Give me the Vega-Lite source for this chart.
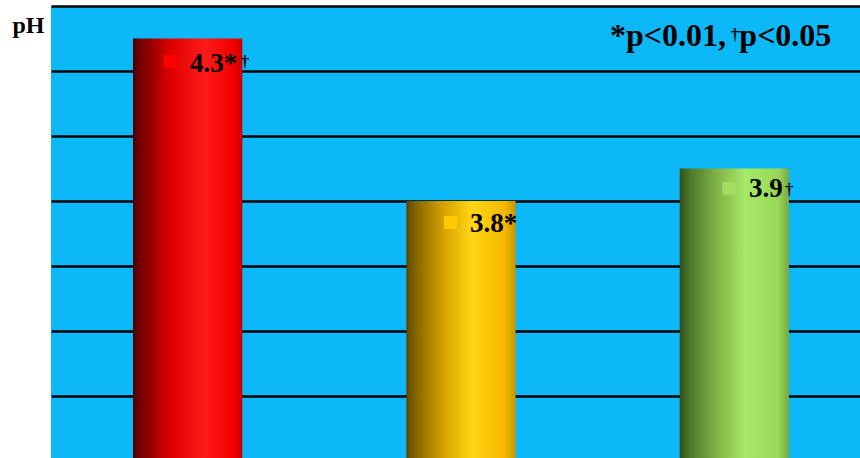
{
  "$schema": "https://vega.github.io/schema/vega-lite/v6.json",
  "width": 820,
  "height": 455,
  "autosize": "none",
  "padding": {"left": 51, "top": 6, "right": 0, "bottom": 0},
  "background": "white",
  "view": {"fill": "#0DB8F9", "stroke": null},
  "config": {"font": "Liberation Serif"},
  "data": {"values": [
    {"group": "Group 1", "value": 4.3, "label": "4.3*", "sup": "†"},
    {"group": "Group 2", "value": 3.8, "label": "3.8*", "sup": ""},
    {"group": "Group 3", "value": 3.9, "label": "3.9", "sup": "†"}
  ]},
  "encoding": {
    "x": {"field": "group", "type": "nominal", "sort": null, "axis": null,
          "scale": {"paddingInner": 0.6, "paddingOuter": 0.3}},
    "y": {"field": "value", "type": "quantitative",
          "scale": {"domain": [3.0, 4.4], "nice": false, "zero": false},
          "axis": {"values": [3.2, 3.4, 3.6, 3.8, 4.0, 4.2, 4.4], "labels": false, "ticks": false, "domain": false,
                   "grid": true, "gridColor": "#000000", "gridWidth": 2.6, "gridOpacity": 1,
                   "title": "pH", "titleAngle": 0, "titleAlign": "left", "titleBaseline": "alphabetic",
                   "titleX": -39, "titleY": 26, "titleFont": "Liberation Serif", "titleFontSize": 24,
                   "titleFontWeight": "bold", "titleColor": "#000000"}}
  },
  "layer": [
    {"transform": [{"filter": "datum.group == 'Group 1'"}],
     "mark": {"type": "bar", "color": {"gradient": "linear", "x1": 0, "y1": 0, "x2": 1, "y2": 0, "stops": [
       {"offset": 0, "color": "#4d0000"}, {"offset": 0.08, "color": "#780000"}, {"offset": 0.35, "color": "#e00000"},
       {"offset": 0.65, "color": "#ff1a1a"}, {"offset": 0.92, "color": "#f20000"}, {"offset": 1, "color": "#c80000"}]}},
     "encoding": {"y2": {"datum": 3.0}}},
    {"transform": [{"filter": "datum.group == 'Group 2'"}],
     "mark": {"type": "bar", "color": {"gradient": "linear", "x1": 0, "y1": 0, "x2": 1, "y2": 0, "stops": [
       {"offset": 0, "color": "#5c4600"}, {"offset": 0.1, "color": "#8a6800"}, {"offset": 0.35, "color": "#d8a400"},
       {"offset": 0.6, "color": "#ffd614"}, {"offset": 0.9, "color": "#f5b800"}, {"offset": 1, "color": "#c89400"}]}},
     "encoding": {"y2": {"datum": 3.0}}},
    {"transform": [{"filter": "datum.group == 'Group 3'"}],
     "mark": {"type": "bar", "color": {"gradient": "linear", "x1": 0, "y1": 0, "x2": 1, "y2": 0, "stops": [
       {"offset": 0, "color": "#33501c"}, {"offset": 0.1, "color": "#4e7a2e"}, {"offset": 0.35, "color": "#80b448"},
       {"offset": 0.6, "color": "#a8e868"}, {"offset": 0.9, "color": "#98d858"}, {"offset": 1, "color": "#78a840"}]}},
     "encoding": {"y2": {"datum": 3.0}}},

    {"transform": [{"filter": "datum.group == 'Group 1'"}],
     "mark": {"type": "point", "shape": "square", "size": 169, "filled": true, "opacity": 1, "strokeWidth": 0,
              "color": "#ff0000", "xOffset": -17.2, "yOffset": 23}},
    {"transform": [{"filter": "datum.group == 'Group 2'"}],
     "mark": {"type": "point", "shape": "square", "size": 169, "filled": true, "opacity": 1, "strokeWidth": 0,
              "color": "#ffc800", "xOffset": -10.5, "yOffset": 21.5}},
    {"transform": [{"filter": "datum.group == 'Group 3'"}],
     "mark": {"type": "point", "shape": "square", "size": 169, "filled": true, "opacity": 1, "strokeWidth": 0,
              "color": "#a4dc64", "xOffset": -5.3, "yOffset": 19.8}},

    {"transform": [{"filter": "datum.group == 'Group 1'"}],
     "mark": {"type": "text", "align": "left", "baseline": "alphabetic", "dx": 2.3, "dy": 33,
              "font": "Liberation Serif", "fontSize": 27, "fontWeight": "bold", "color": "#000000"},
     "encoding": {"text": {"field": "label"}}},
    {"transform": [{"filter": "datum.group == 'Group 2'"}],
     "mark": {"type": "text", "align": "left", "baseline": "alphabetic", "dx": 9, "dy": 30.7,
              "font": "Liberation Serif", "fontSize": 27, "fontWeight": "bold", "color": "#000000"},
     "encoding": {"text": {"field": "label"}}},
    {"transform": [{"filter": "datum.group == 'Group 3'"}],
     "mark": {"type": "text", "align": "left", "baseline": "alphabetic", "dx": 14.7, "dy": 28.8,
              "font": "Liberation Serif", "fontSize": 27, "fontWeight": "bold", "color": "#000000"},
     "encoding": {"text": {"field": "label"}}},

    {"transform": [{"filter": "datum.group == 'Group 1'"}],
     "mark": {"type": "text", "align": "left", "baseline": "alphabetic", "dx": 53, "dy": 28,
              "font": "Liberation Serif", "fontSize": 17, "fontWeight": "bold", "color": "#000000"},
     "encoding": {"text": {"field": "sup"}}},
    {"transform": [{"filter": "datum.group == 'Group 3'"}],
     "mark": {"type": "text", "align": "left", "baseline": "alphabetic", "dx": 50.7, "dy": 26.5,
              "font": "Liberation Serif", "fontSize": 17, "fontWeight": "bold", "color": "#000000"},
     "encoding": {"text": {"field": "sup"}}},

    {"transform": [{"filter": "datum.group == 'Group 3'"}],
     "mark": {"type": "text", "align": "right", "baseline": "alphabetic", "dx": -8.3, "dy": -122.5,
              "font": "Liberation Serif", "fontSize": 32, "fontWeight": "bold", "color": "#000000"},
     "encoding": {"text": {"value": "*p<0.01,"}}},
    {"transform": [{"filter": "datum.group == 'Group 3'"}],
     "mark": {"type": "text", "align": "center", "baseline": "alphabetic", "dx": 0.7, "dy": -128.5,
              "font": "Liberation Serif", "fontSize": 17, "fontWeight": "bold", "color": "#000000"},
     "encoding": {"text": {"value": "†"}}},
    {"transform": [{"filter": "datum.group == 'Group 3'"}],
     "mark": {"type": "text", "align": "left", "baseline": "alphabetic", "dx": 5, "dy": -122.5,
              "font": "Liberation Serif", "fontSize": 32, "fontWeight": "bold", "color": "#000000"},
     "encoding": {"text": {"value": "p<0.05"}}}
  ]
}
